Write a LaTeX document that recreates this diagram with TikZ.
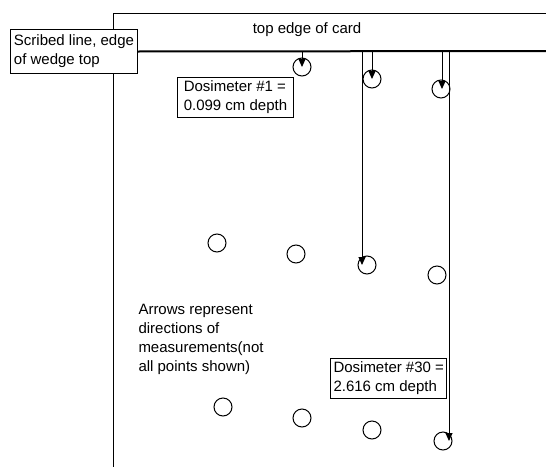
\documentclass[tikz,border=0pt]{standalone}
\usepackage{fontspec}
\setmainfont{Liberation Sans}
\usetikzlibrary{arrows.meta}

\tikzset{
    labelbox/.style = {draw, fill = white, rectangle, anchor = north west, align = left,
        inner xsep = 3pt, minimum width = 116pt, minimum height = 40pt},
    dosim/.style = {draw, circle, minimum size = 18pt, inner sep = 0pt},
    meas/.style = {-{Triangle[width = 7pt, length = 8pt]}},
    scribed/.style = {line width = 2pt}
}

\begin{document}
\begin{tikzpicture}[x = 1pt, y = -1pt, line width = 1pt,
        font = \fontsize{15}{19}\selectfont]
        \useasboundingbox (0,0) rectangle (546,466);

        % card outline
        \draw (113,480) -- (113,13) -- (560,13);
        \node (card) at (307,30) {top edge of card};

        % scribed line
        \node[labelbox, minimum width = 127pt, minimum height = 44pt] (scribe) at (10,29) {Scribed line, edge\\of wedge top};
        \coordinate (edgeend) at (560,51);
        \draw[scribed] (scribe.east) -- (edgeend);

        % dosimeters, first row
        \node[dosim] (d1) at (302,67) {};
        \node[dosim] (d2) at (372,79) {};
        \node[dosim] (d3) at (441,89) {};

        % second row
        \node[dosim] (e1) at (217,243) {};
        \node[dosim] (e2) at (296,254) {};
        \node[dosim] (e3) at (367,265) {};
        \node[dosim] (e4) at (437,275) {};

        % third row
        \node[dosim] (f1) at (223,407) {};
        \node[dosim] (f2) at (302,418) {};
        \node[dosim] (f3) at (372,430) {};
        \node[dosim] (d30) at (443,441) {};

        % measurement arrows
        \coordinate (s1) at (302,51);
        \coordinate (s2) at (372,51);
        \coordinate (s3) at (442,51);
        \coordinate (s4) at (362,51);
        \coordinate (s5) at (449,51);
        \draw[meas] (s1) -- (d1.center);
        \draw[meas] (s2) -- (d2.center);
        \draw[meas] (s3) -- (s3 |- d3.center);
        \draw[meas] (s4) -- (s4 |- e3.center);
        \draw[meas] (s5) -- (s5 |- d30.center);

        % labels
        \node[labelbox] (first) at (177,77) {Dosimeter \#1 =\\0.099 cm depth};
        \node[labelbox] (last) at (330,358) {Dosimeter \#30 =\\2.616 cm depth};
        \node[anchor = north west, align = left, inner sep = 0pt] (note) at (138,304)
            {Arrows represent\\directions of\\measurements(not\\all points shown)};
    \end{tikzpicture}
\end{document}
